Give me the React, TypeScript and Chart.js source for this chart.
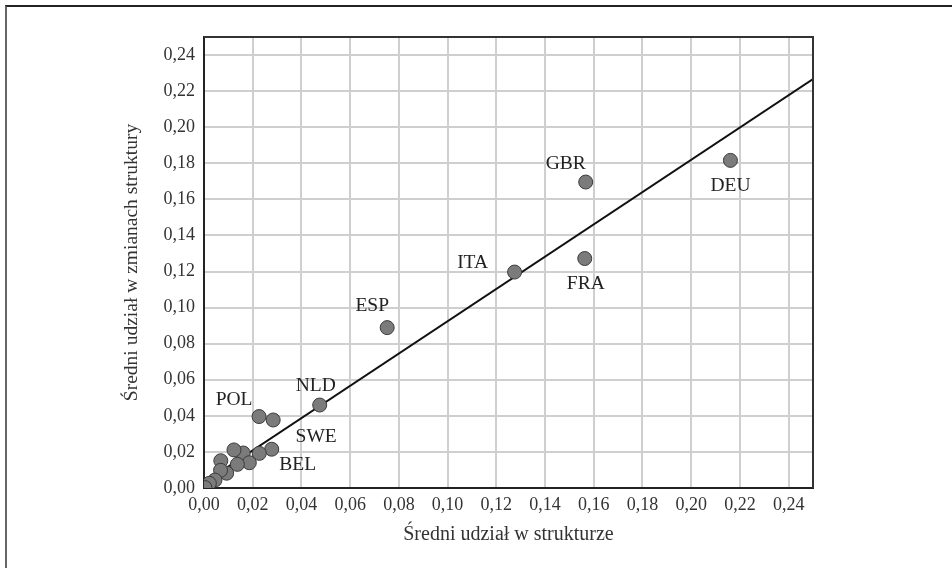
import React, { useEffect, useRef } from "react";
import { Chart, registerables } from "chart.js";

Chart.register(...registerables);

// Data
const countryX = [0.2161, 0.1567, 0.1563, 0.1275, 0.0752, 0.0475, 0.0226, 0.0284, 0.0278, 0.0227, 0.0161, 0.0123, 0.0186, 0.0137, 0.0069, 0.0093, 0.0068, 0.0045, 0.0022, 0.0004];
const countryY = [0.1816, 0.1696, 0.1272, 0.1197, 0.0889, 0.0460, 0.0396, 0.0377, 0.0215, 0.0192, 0.0194, 0.0211, 0.0140, 0.0131, 0.0151, 0.0082, 0.0098, 0.0044, 0.0026, 0.0002];

const trendX = [0, 0.25];
const trendY = [0.003, 0.2267];

const labelNames = ["DEU", "GBR", "FRA", "ITA", "ESP", "NLD", "POL", "SWE", "BEL"];
const labelPointIndex = [0, 1, 2, 3, 4, 5, 6, 7, 8];
const labelDx = [0, -20, 1, -42, -15, -4, -25, 43, 26];
const labelDy = [25, -18, 25, -9, -22, -19, -17, 17, 16];

const xTitle = "Średni udział w strukturze";
const yTitle = "Średni udział w zmianach struktury";

const SERIF = "'Liberation Serif', 'Times New Roman', serif";

const fmt = (v: number) => Number(v).toFixed(2).replace(".", ",");

const labelPlugin = {
  id: "pointLabels",
  afterDatasetsDraw(chart: any) {
    const { ctx, scales } = chart;
    ctx.save();
    ctx.font = `19.5px ${SERIF}`;
    ctx.fillStyle = "#222";
    ctx.textAlign = "center";
    ctx.textBaseline = "middle";
    labelNames.forEach((name, i) => {
      const idx = labelPointIndex[i];
      const px = scales.x.getPixelForValue(countryX[idx]) + labelDx[i];
      const py = scales.y.getPixelForValue(countryY[idx]) + labelDy[i];
      ctx.fillText(name, px, py);
    });
    ctx.restore();
  },
};

const framePlugin = {
  id: "plotFrame",
  afterDraw(chart: any) {
    const { ctx, chartArea } = chart;
    ctx.save();
    ctx.strokeStyle = "#333";
    ctx.lineWidth = 2;
    ctx.beginPath();
    ctx.moveTo(chartArea.left, chartArea.top);
    ctx.lineTo(chartArea.right, chartArea.top);
    ctx.lineTo(chartArea.right, chartArea.bottom);
    ctx.stroke();
    ctx.restore();
  },
};

export default function App() {
  const ref = useRef<HTMLCanvasElement>(null);
  useEffect(() => {
    if (!ref.current) return;
    const chart = new Chart(ref.current, {
      type: "scatter",
      data: {
        datasets: [
          {
            type: "line",
            data: trendX.map((x, i) => ({ x, y: trendY[i] })),
            borderColor: "#111",
            borderWidth: 2,
            pointRadius: 0,
            fill: false,
            order: 2,
          } as any,
          {
            data: countryX.map((x, i) => ({ x, y: countryY[i] })),
            backgroundColor: "#7b7b7b",
            borderColor: "#3a3a3a",
            borderWidth: 1,
            pointRadius: 7,
            order: 1,
          },
        ],
      },
      options: {
        responsive: false,
        animation: false,
        layout: { padding: { left: 116, right: 139, top: 37, bottom: 21 } },
        plugins: { legend: { display: false }, tooltip: { enabled: false } },
        scales: {
          x: {
            type: "linear",
            min: 0,
            max: 0.25,
            afterFit: (s: any) => {
              s.height = 59;
            },
            ticks: {
              stepSize: 0.02,
              includeBounds: false,
              autoSkip: false,
              maxRotation: 0,
              padding: 6,
              color: "#333",
              font: { family: SERIF, size: 18 },
              callback: (v: any) => fmt(v),
            },
            grid: { color: "#cfcfcf", lineWidth: 2, drawTicks: false },
            border: { color: "#222", width: 2 },
            title: {
              display: true,
              text: xTitle,
              color: "#333",
              font: { family: SERIF, size: 20 },
              padding: { top: 0, bottom: 0 },
            },
          },
          y: {
            type: "linear",
            min: 0,
            max: 0.25,
            afterFit: (s: any) => {
              s.width = 88;
            },
            ticks: {
              stepSize: 0.02,
              includeBounds: false,
              autoSkip: false,
              padding: 9,
              color: "#333",
              font: { family: SERIF, size: 18 },
              callback: (v: any) => fmt(v),
            },
            grid: { color: "#cfcfcf", lineWidth: 2, drawTicks: false },
            border: { color: "#222", width: 2 },
            title: {
              display: true,
              text: yTitle,
              color: "#333",
              font: { family: SERIF, size: 19.5 },
              padding: { top: 4, bottom: 0 },
            },
          },
        },
      },
      plugins: [labelPlugin, framePlugin],
    });
    return () => chart.destroy();
  }, []);

  return (
    <div style={{ position: "fixed", left: 0, top: 0, width: 952, height: 568, background: "#fff", overflow: "hidden" }}>
      <div
        style={{
          position: "absolute",
          left: 5,
          top: 5,
          width: 1200,
          height: 800,
          borderTop: "2px solid #222",
          borderLeft: "2px solid #666",
        }}
      />
      <canvas ref={ref} width={952} height={568} style={{ position: "absolute", left: 0, top: 0 }} />
    </div>
  );
}
